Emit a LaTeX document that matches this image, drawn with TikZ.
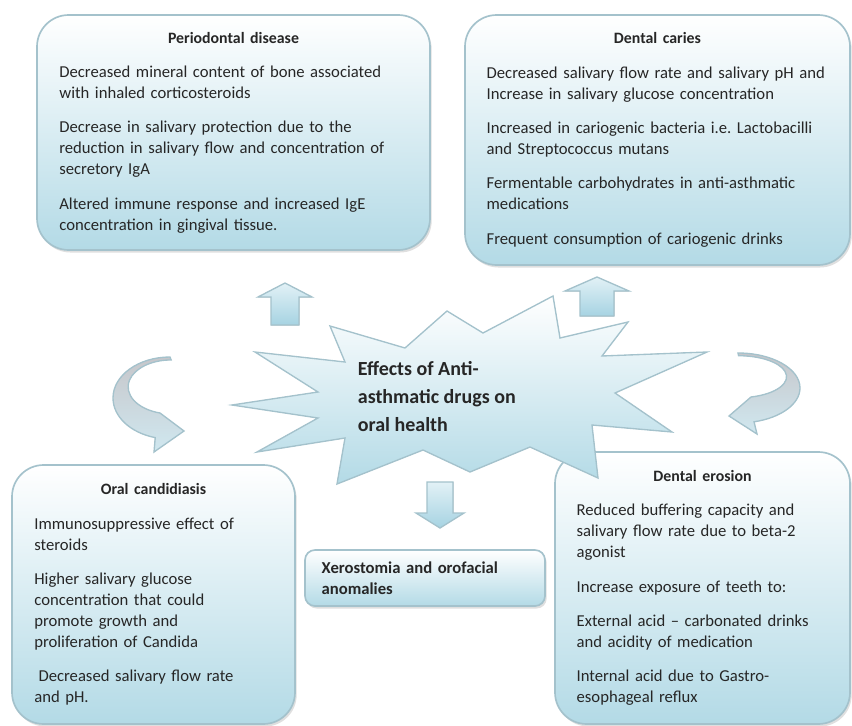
\documentclass[tikz,border=0pt]{standalone}
\usepackage{fontspec}
\setmainfont{Carlito}
\usetikzlibrary{shadows,
                positioning}

\definecolor{boxblue}{HTML}{B3DAE6}
\definecolor{boxedge}{HTML}{A4C2CC}
\definecolor{txtgrey}{HTML}{262626}
\definecolor{ribgrey}{HTML}{C6C6CA}
\definecolor{arrowtop}{HTML}{E2F1F6}
\definecolor{arrowbot}{HTML}{A6D3E2}

\newcommand{\boxtitle}[1]{\makebox[\hsize][c]{\fontsize{9.5}{12.6}\selectfont\bfseries #1}}

\begin{document}
\begin{tikzpicture}[
        x=0.6pt, y=-0.6pt,
        infobox/.style={rectangle, rounded corners=19pt, draw=boxedge, line width=1pt, top color=white, bottom color=boxblue, text=txtgrey, align=left, inner xsep=13pt, font=\fontsize{10}{12.6}\selectfont, drop shadow={shadow xshift=1pt, shadow yshift=-1.5pt, opacity=0.25}},
        smallbox/.style={infobox, rounded corners=6pt, inner xsep=10pt},
        blockarrow/.style={draw=boxedge, line width=0.8pt, top color=arrowtop, bottom color=arrowbot},
        ribbon/.style={draw=boxedge, line width=0.8pt, top color=ribgrey, bottom color=arrowtop!70!arrowbot},
        burst/.style={draw=boxedge, line width=0.8pt, top color=white, bottom color=boxblue}
        ]

        \useasboundingbox[fill=white] (0,0) rectangle (852,726);

        % the five effects
        \node (perio) [infobox, minimum width=235.8pt, minimum height=141pt, text width=209pt] at (233.5,132.5) {%
            \boxtitle{Periodontal disease}\\[8pt]
            Decreased mineral content of bone associated\\
            with inhaled corticosteroids\\[8pt]
            Decrease in salivary protection due to the\\
            reduction in salivary flow and concentration of\\
            secretory IgA\\[8pt]
            Altered immune response and increased IgE\\
            concentration in gingival tissue.};

        \node (caries) [infobox, minimum width=231pt, minimum height=150pt, text width=205pt] at (657.5,140) {%
            \boxtitle{Dental caries}\\[8pt]
            Decreased salivary flow rate and salivary pH and\\
            Increase in salivary glucose concentration\\[8pt]
            Increased in cariogenic bacteria i.e.\ Lactobacilli\\
            and Streptococcus mutans\\[8pt]
            Fermentable carbohydrates in anti-asthmatic\\
            medications\\[8pt]
            Frequent consumption of cariogenic drinks};

        \node (candida) [infobox, minimum width=169.8pt, minimum height=155.4pt, text width=143pt] at (153.5,594.5) {%
            \boxtitle{Oral candidiasis}\\[8pt]
            Immunosuppressive effect of\\
            steroids\\[8pt]
            Higher salivary glucose\\
            concentration that could\\
            promote growth and\\
            proliferation of Candida\\[8pt]
            \hspace{2.5pt}Decreased salivary flow rate\\
            and pH.};

        \node (xero) [smallbox, minimum width=144pt, minimum height=33.6pt, text width=124pt, font=\fontsize{10}{12.6}\selectfont\bfseries] at (425,578) {%
            Xerostomia and orofacial\\
            anomalies};

        \node (erosion) [infobox, minimum width=177pt, minimum height=163.2pt, text width=151pt] at (702.5,588) {%
            \boxtitle{Dental erosion}\\[8pt]
            Reduced buffering capacity and\\
            salivary flow rate due to beta-2\\
            agonist\\[8pt]
            Increase exposure of teeth to:\\[8pt]
            External acid -- carbonated drinks\\
            and acidity of medication\\[8pt]
            Internal acid due to Gastro-\\
            esophageal reflux};

        % central burst
        \filldraw [burst] (232,405) -- (318,392) -- (255,352) -- (345,362) -- (330,326) -- (405,348)
            -- (447,311) -- (483,333) -- (553,296) -- (560,338) -- (628,322) -- (602,356)
            -- (707,352) -- (615,393) -- (672,432) -- (592,425) -- (598,478) -- (530,447)
            -- (470,472) -- (423,450) -- (337,484) -- (345,438) -- (257,452) -- (318,418) -- cycle;
        \node (effects) [anchor=west, align=left, text=txtgrey, font=\fontsize{12}{16.8}\selectfont\bfseries] at (352,397) {%
            Effects of Anti-\\
            asthmatic drugs on\\
            oral health};

        % block arrows
        \filldraw [blockarrow] (271,325) -- (271,297) -- (258,297) -- (285,283) -- (312,297) -- (299,297) -- (299,325) -- cycle;
        \filldraw [blockarrow] (580,316) -- (580,291) -- (565,291) -- (597,277) -- (629,291) -- (614,291) -- (614,316) -- cycle;
        \filldraw [blockarrow] (427,482) -- (453,482) -- (453,513) -- (464,513) -- (440,528) -- (416,513) -- (427,513) -- cycle;

        % curved arrows
        \filldraw [ribbon] (170,357) arc[start angle=270, end angle=105, x radius=57, y radius=41]
            -- (154,452) -- (184,431) -- (160,413)
            arc[start angle=105, end angle=270, x radius=43, y radius=27] -- cycle;
        \filldraw [ribbon] (738,353) arc[start angle=-90, end angle=75, x radius=62, y radius=35]
            -- (757,434) -- (729,416) -- (751,397)
            arc[start angle=75, end angle=-90, x radius=48, y radius=21] -- cycle;

    \end{tikzpicture}
\end{document}
